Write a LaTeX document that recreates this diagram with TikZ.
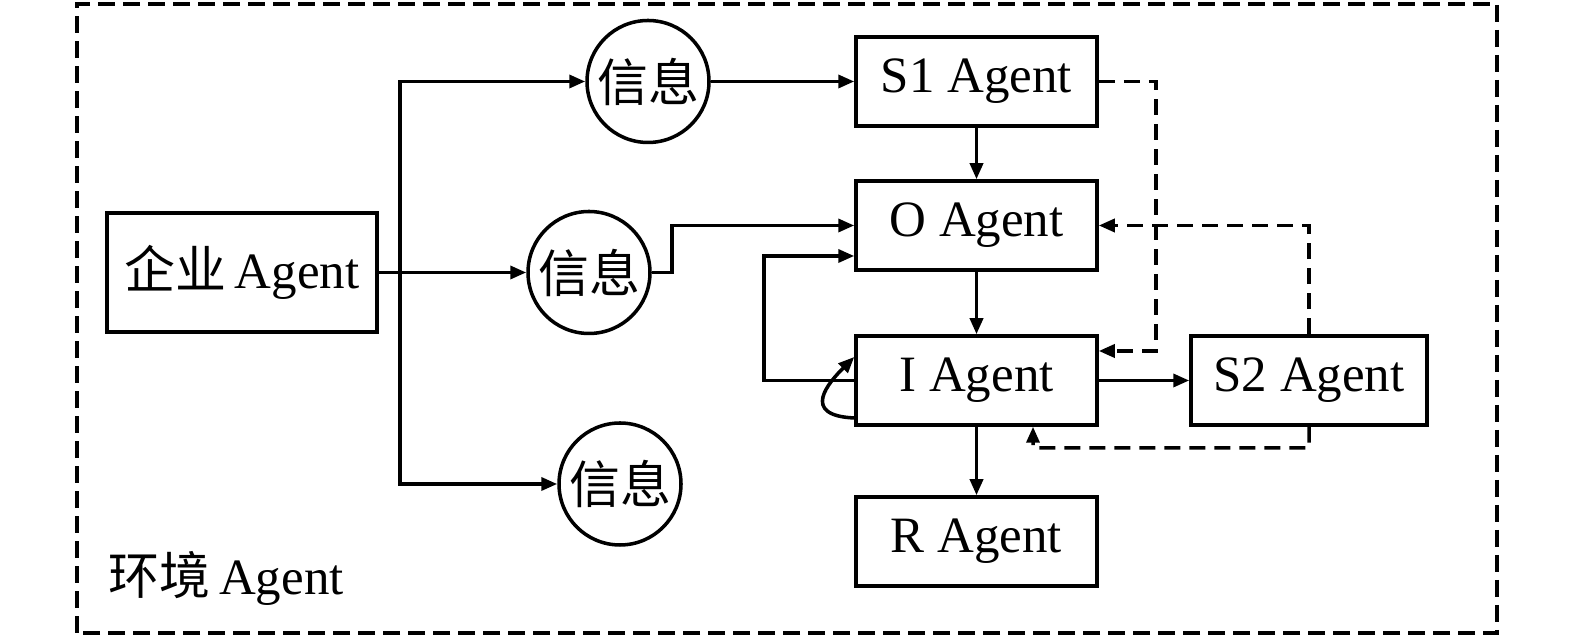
\documentclass[tikz,border=0pt]{standalone}
\usepackage{fontspec}
\setmainfont{Liberation Serif}
\newfontfamily\cjk{Noto Sans CJK SC}
\usetikzlibrary{arrows.meta}
\tikzset{
    agent/.style={draw, line width=2pt, minimum width=4.82cm, minimum height=1.78cm,
        inner sep=0pt},
    info/.style={draw, circle, line width=2pt, minimum size=2.44cm, inner sep=0pt},
    arr/.style={line width=2pt, -{Triangle[length=0.32cm, width=0.26cm]}},
    dasharr/.style={arr, dash pattern=on 0.32cm off 0.18cm},
}
\begin{document}
\begin{tikzpicture}[font=\fontsize{29}{34}\selectfont]
    \useasboundingbox (0,0) rectangle (31.5,12.8);
    \draw[line width=2pt, dash pattern=on 0.34cm off 0.16cm] (1.54,0.14) rectangle (29.94,12.72);
    \node[anchor=west] (env) at (2.05,1.24) {{\cjk 环境}\,Agent};
    % agents
    \node[agent, minimum width=5.4cm, minimum height=2.38cm] (qiye) at (4.84,7.35) {{\cjk 企业}\,Agent};
    \node[agent] (s1) at (19.53,11.17) {S1 Agent};
    \node[agent] (o) at (19.53,8.29) {O Agent};
    \node[agent] (i) at (19.53,5.19) {I Agent};
    \node[agent] (r) at (19.53,1.97) {R Agent};
    \node[agent, minimum width=4.72cm] (s2) at (26.18,5.19) {S2 Agent};
    % information
    \node[info] (info1) at (12.96,11.17) {\cjk 信息};
    \node[info] (info2) at (11.78,7.35) {\cjk 信息};
    \node[info] (info3) at (12.4,3.12) {\cjk 信息};
    \coordinate (split) at (8.0,7.35);
    % flows
    \draw[arr] (qiye) -- (info2);
    \draw[arr] (split) |- (info1);
    \draw[arr] (split) |- (info3);
    \draw[arr] (info1) -- (s1);
    \draw[arr] (info2.east) -- (13.44,7.35) |- (o.west);
    \draw[arr] (s1) -- (o);
    \draw[arr] (o) -- (i);
    \draw[arr] (i) -- (r);
    \draw[arr] (i) -- (s2);
    \draw[arr] (i.west) -| (15.28,7.68) -- ([yshift=-0.61cm]o.west);
    \draw[arr] ([yshift=-0.75cm]i.west) .. controls +(-1.1,0.05) and +(-0.5,-0.5)
        .. ([yshift=0.47cm]i.west);
    % feedback
    \draw[dasharr] (s1.east) -| (23.12,5.78) -- ([yshift=0.59cm]i.east);
    \draw[dasharr] (s2.north) |- (o.east);
    \draw[dasharr] (s2.south) |- (20.66,3.84) -- ([xshift=1.13cm]i.south);
\end{tikzpicture}
\end{document}
